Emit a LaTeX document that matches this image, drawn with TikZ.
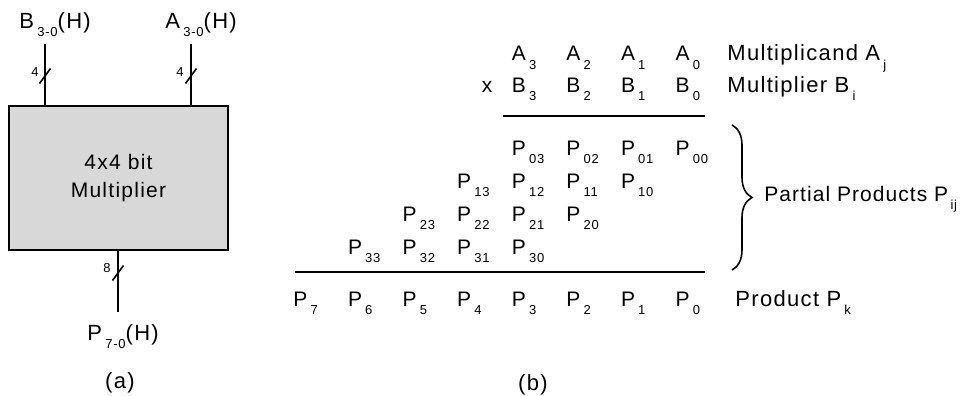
\documentclass[tikz,border=0pt]{standalone}
\usepackage{fontspec}
\setmainfont[LetterSpace=6]{Liberation Sans}
\usetikzlibrary{calc,positioning,decorations.pathreplacing}
\definecolor{boxgray}{RGB}{216,216,216}
% letter with a low, set-off subscript
\newcommand{\sbs}[2]{#1\kern1.6pt\raisebox{-4.4pt}{\fontsize{6.5}{7}\selectfont #2}}

\begin{document}
\begin{tikzpicture}[x=0.5pt,y=-0.5pt,
  bit/.style={anchor=base west,inner sep=0pt,font=\fontsize{10.5}{12}\selectfont},
  lbl/.style={anchor=base west,inner sep=0pt,font=\fontsize{11}{13}\selectfont},
  tick/.style={inner sep=0pt,font=\fontsize{6.5}{7}\selectfont}]
\useasboundingbox (0,0) rectangle (969,396);
% left panel: block diagram
\begin{scope}
\node[draw,line width=1pt,fill=boxgray,minimum width=109.5pt,minimum height=72pt,
  align=center,font=\fontsize{10.5}{14}\selectfont] (mult) at (118.5,178) {4x4 bit\\Multiplier};
\node[lbl] (blab) at (19,28) {\sbs{B}{3-0}(H)};
\node[lbl] (alab) at (165,28) {\sbs{A}{3-0}(H)};
\node[lbl] (plab) at (87,340) {\sbs{P}{7-0}(H)};
\coordinate (bin) at (45,44);
\coordinate (ain) at (191,44);
\coordinate (pout) at (118,312);
\draw[line width=0.8pt] (bin) -- (bin |- mult.north);
\draw[line width=0.8pt] (ain) -- (ain |- mult.north);
\draw[line width=0.8pt] (mult.south -| pout) -- (pout);
% bus width slashes
\foreach \c/\y in {bin/76,ain/76,pout/273}
  \draw[line width=0.8pt] ($(\c |- 0,\y)+(-5.5,7.5)$) -- ($(\c |- 0,\y)+(5.5,-7.5)$);
\node[tick] (bw) at (35,72) {4};
\node[tick] (aw) at (180,72) {4};
\node[tick] (pw) at (107,268) {8};
\node[font=\fontsize{11}{13}\selectfont] (capa) at (120,383) {(a)};
\end{scope}
% right panel: paper-and-pencil multiplication
\begin{scope}
\foreach \j in {0,...,3} {
  \node[bit] (a\j) at ({293+54.6*(7-\j)},61) {\sbs{A}{\j}};
  \node[bit] (b\j) at ({293+54.6*(7-\j)},92) {\sbs{B}{\j}};
}
\node[bit,anchor=base] (times) at (487,92) {x};
\foreach \i in {0,...,3}
  \foreach \j in {0,...,3}
    \node[bit] (p\i\j) at ({293+54.6*(7-\i-\j)},{155+33*\i}) {\sbs{P}{\i\j}};
\foreach \k in {0,...,7}
  \node[bit] (q\k) at ({293+54.6*(7-\k)},306) {\sbs{P}{\k}};
\coordinate (l1a) at (503,116); \coordinate (l1b) at (705,116);
\coordinate (l2a) at (295,272); \coordinate (l2b) at (705,272);
\draw[line width=0.8pt] (l1a) -- (l1b);
\draw[line width=0.8pt] (l2a) -- (l2b);
\node[lbl] (mcand) at (727,61) {Multiplicand \sbs{A}{j}};
\node[lbl] (mplier) at (727,92) {Multiplier \sbs{B}{i}};
\coordinate (br1) at (732,125); \coordinate (br2) at (732,270);
\draw[line width=0.8pt,decorate,decoration={brace,amplitude=10pt}] (br1) -- (br2);
\node[lbl,font=\fontsize{10.5}{13}\selectfont\addfontfeature{LetterSpace=5}] (pp) at (764,201)
  {Partial Products P\kern1.2pt\raisebox{-4.4pt}{\fontsize{6.5}{7}\selectfont ij}};
\node[lbl] (prod) at (735,306) {Product \sbs{P}{k}};
\node[font=\fontsize{11}{13}\selectfont] (capb) at (533,385) {(b)};
\end{scope}
\end{tikzpicture}
\end{document}
